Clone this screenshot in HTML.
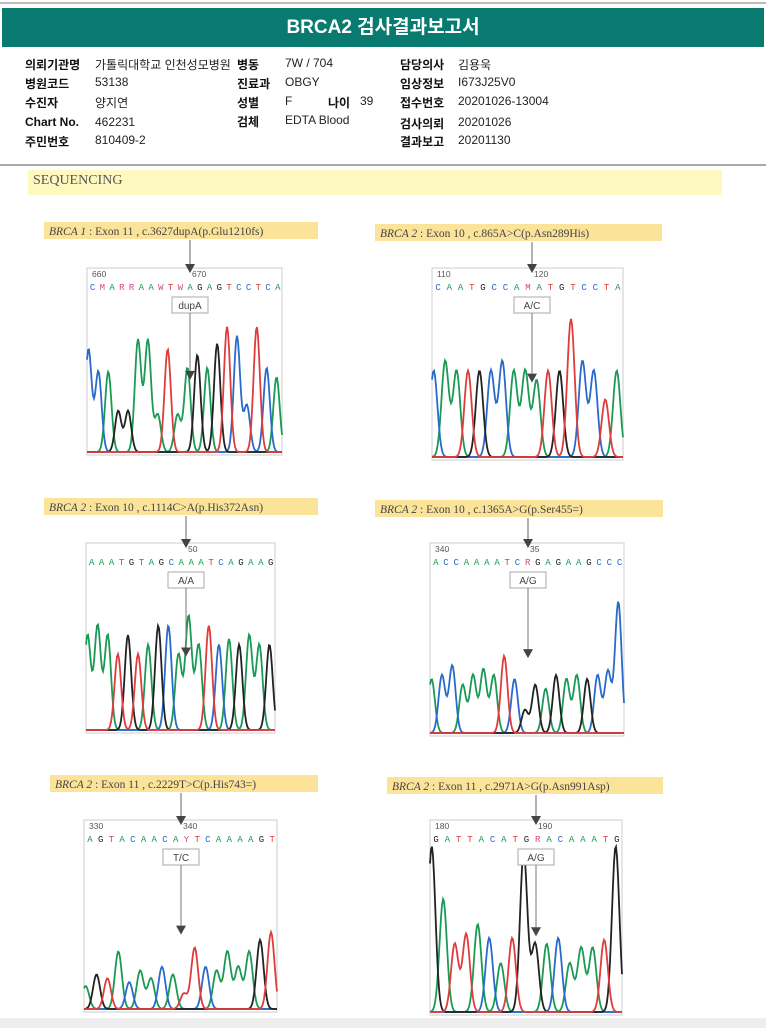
<!DOCTYPE html>
<html><head><meta charset="utf-8"><style>
html,body{margin:0;padding:0;width:766px;height:1028px;overflow:hidden;background:#fff;font-family:"Liberation Sans","Noto Sans CJK KR",sans-serif;}
.topline{position:absolute;left:0;top:2px;width:766px;height:2px;background:#bbb}
.title{position:absolute;left:2px;top:8px;width:762px;height:39px;background:#087a70;color:#fff;font-weight:bold;font-size:19px;text-align:center;line-height:39px}
.info{position:absolute;font-size:12px;color:#222;white-space:nowrap}
.info b{font-weight:bold;color:#111}
.sep{position:absolute;left:0;top:164px;width:766px;height:2px;background:#aaa}
.seq{position:absolute;left:28px;top:170px;width:694px;height:25px;background:#fdf9bf;font-family:"Liberation Serif",serif;font-size:14px;color:#555;line-height:22px;text-indent:5px}
.bottom{position:absolute;left:0;top:1018px;width:766px;height:10px;background:#eee}
</style></head><body>
<div class="topline"></div>
<div class="title">BRCA2 검사결과보고서</div>
<div>
<div class="info" style="left:25px;top:56px"><b>의뢰기관명</b></div><div class="info" style="left:95px;top:56px">가톨릭대학교 인천성모병원</div>
<div class="info" style="left:237px;top:56px"><b>병동</b></div><div class="info" style="left:285px;top:56px">7W / 704</div>
<div class="info" style="left:400px;top:56px"><b>담당의사</b></div><div class="info" style="left:458px;top:56px">김용욱</div>
<div class="info" style="left:25px;top:75px"><b>병원코드</b></div><div class="info" style="left:95px;top:75px">53138</div>
<div class="info" style="left:237px;top:75px"><b>진료과</b></div><div class="info" style="left:285px;top:75px">OBGY</div>
<div class="info" style="left:400px;top:75px"><b>임상정보</b></div><div class="info" style="left:458px;top:75px">I673J25V0</div>
<div class="info" style="left:25px;top:94px"><b>수진자</b></div><div class="info" style="left:95px;top:94px">양지연</div>
<div class="info" style="left:237px;top:94px"><b>성별</b></div><div class="info" style="left:285px;top:94px">F</div>
<div class="info" style="left:328px;top:94px"><b>나이</b></div><div class="info" style="left:360px;top:94px">39</div>
<div class="info" style="left:400px;top:94px"><b>접수번호</b></div><div class="info" style="left:458px;top:94px">20201026-13004</div>
<div class="info" style="left:25px;top:115px"><b>Chart No.</b></div><div class="info" style="left:95px;top:115px">462231</div>
<div class="info" style="left:237px;top:113px"><b>검체</b></div><div class="info" style="left:285px;top:113px">EDTA Blood</div>
<div class="info" style="left:400px;top:115px"><b>검사의뢰</b></div><div class="info" style="left:458px;top:115px">20201026</div>
<div class="info" style="left:25px;top:133px"><b>주민번호</b></div><div class="info" style="left:95px;top:133px">810409-2</div>
<div class="info" style="left:400px;top:133px"><b>결과보고</b></div><div class="info" style="left:458px;top:133px">20201130</div>
</div>
<div class="sep"></div>
<div class="seq">SEQUENCING</div>
<svg id="chart" width="766" height="1028" style="position:absolute;left:0;top:0"></svg>
<div class="bottom"></div>
<script>
const panelLabels=[["BRCA 1"," : Exon 11 , c.3627dupA(p.Glu1210fs)"],["BRCA 2"," : Exon 10 , c.865A>C(p.Asn289His)"],["BRCA 2"," : Exon 10 , c.1114C>A(p.His372Asn)"],["BRCA 2"," : Exon 10 , c.1365A>G(p.Ser455=)"],["BRCA 2"," : Exon 11 , c.2229T>C(p.His743=)"],["BRCA 2"," : Exon 11 , c.2971A>G(p.Asn991Asp)"]];
const callLabels=["dupA","A/C","A/A","A/G","T/C","A/G"];
const posLabels=[["660","670"],["110","120"],["","50"],["340","35"],["330","340"],["180","190"]];
const seqTexts=["CMARRAAWTWAGAGTCCTCA","CAATGCCAMATGTCCTA","AAATGTAGCAAATCAGAAG","ACCAAAATCRGAGAAGCCC","AGTACAACAYTCAAAAGT","GATTACATGRACAAATG"];
const peakBases=["CCAGGAAATAAGAGTCCTCA","CAATGCCAAATGTCCTA","AAATGTAGCAAATCAGAAG","ACCAAAATCGGAGAAGCCC","AGTACAACATTCAAAAGT","GATTACATGGACAAATG"];
const peakHeights=[
[0.55,0.43,0.43,0.22,0.22,0.6,0.6,0.2,0.55,0.2,0.45,0.52,0.45,0.58,0.67,0.62,0.25,0.67,0.45,0.4],
[0.45,0.5,0.45,0.45,0.45,0.45,0.5,0.45,0.45,0.4,0.45,0.45,0.72,0.5,0.45,0.3,0.45],
[0.5,0.55,0.5,0.4,0.5,0.4,0.45,0.55,0.55,0.4,0.6,0.45,0.55,0.45,0.48,0.45,0.5,0.45,0.45],
[0.28,0.3,0.35,0.25,0.3,0.33,0.3,0.4,0.28,0.12,0.25,0.23,0.3,0.28,0.3,0.28,0.3,0.32,0.68],
[0.12,0.18,0.16,0.3,0.14,0.2,0.16,0.22,0.18,0.08,0.32,0.22,0.2,0.3,0.22,0.3,0.36,0.4],
[0.85,0.58,0.35,0.4,0.45,0.38,0.25,0.38,0.82,0.35,0.35,0.38,0.25,0.33,0.33,0.37,0.85]];
const boxes=[[87,268,195,187,190,44,222,274],[432,268,191,192,532,375,224,287],[86,543,189,190,186,44,498,274],[430,543,194,193,528,375,500,288],[84,820,193,192,181,50,775,268],[430,820,192,195,536,387,777,276]];
const colorMap={A:"#1a9a55",C:"#2a6acb",G:"#222222",T:"#e03c3c",M:"#d04a8a",R:"#d04a8a",W:"#d04a8a",Y:"#d04a8a"};
const svg=document.getElementById('chart');
const NS="http://www.w3.org/2000/svg";
function mk(t,a){const e=document.createElementNS(NS,t);for(const k in a)e.setAttribute(k,a[k]);svg.appendChild(e);return e;}
boxes.forEach((b,i)=>{
 const [bx,by,bw,bh,ax,lx,ly,lw]=b;
 let r=mk('rect',{x:lx,y:ly,width:lw,height:17,fill:'#fbe39a'});
 
 
 let t=mk('text',{x:lx+5,y:ly+13,'font-size':'11.5','font-family':'Liberation Serif, serif',fill:'#444'});
 
 
 t.innerHTML='<tspan font-style="italic">'+panelLabels[i][0]+'</tspan>'+panelLabels[i][1].replace('>','&gt;');
 let box=mk('rect',{x:bx,y:by,width:bw,height:bh,fill:'#fff',stroke:'#ccc','stroke-width':1});
 
 
 const bases=peakBases[i],hs=peakHeights[i],n=bases.length,sp=bw/(n-0.3),sig=sp*0.32;
 const xOf=k=>bx+sp*(k+0.15);
 const yOf=h=>by+bh-3-h*bh;
 ['A','C','G','T'].forEach(c=>{
  let d='';
  for(let px=0;px<=bw;px+=1){
   const x=bx+px;let v=0;
   for(let k=0;k<n;k++){if(bases[k]===c)v+=hs[k]*Math.exp(-Math.pow(x-xOf(k),2)/(2*sig*sig));}
   d+=(px?'L':'M')+x.toFixed(1)+' '+yOf(v).toFixed(1);
  }
  let p=mk('path',{d:d,fill:'none',stroke:colorMap[c],'stroke-width':1.8});
  
  
 });
 const s=seqTexts[i];
 for(let k=0;k<s.length;k++){
  let e=mk('text',{x:bx+(k+0.3)*bw/s.length,y:by+22,'font-size':'9','font-family':'Liberation Mono, monospace',fill:colorMap[s[k]]||'#888'});
  
  
  e.textContent=s[k];
 }
 const pl=posLabels[i];
 let p1=mk('text',{x:bx+5,y:by+9,'font-size':'8.5',fill:'#555'});p1.textContent=pl[0];
 
 
 let p2=mk('text',{x:ax+2,y:by+9,'font-size':'8.5',fill:'#555'});p2.textContent=pl[1];
 
 
 let l1=mk('line',{x1:ax,y1:ly+18,x2:ax,y2:by+2,stroke:'#666','stroke-width':1});
 
 
 let a1=mk('path',{d:`M${ax-5} ${by-4}L${ax+5} ${by-4}L${ax} ${by+5}Z`,fill:'#444'});
 
 
 let cb=mk('rect',{x:ax-18,y:by+29,width:36,height:16,fill:'#fff',stroke:'#aaa'});
 
 
 let ct=mk('text',{x:ax,y:by+41,'font-size':'10','text-anchor':'middle',fill:'#444'});ct.textContent=callLabels[i];
 
 
 let ay=by+bh*0.55;
 let l2=mk('line',{x1:ax,y1:by+45,x2:ax,y2:ay,stroke:'#777','stroke-width':1});
 
 
 let a2=mk('path',{d:`M${ax-5} ${ay}L${ax+5} ${ay}L${ax} ${ay+9}Z`,fill:'#444'});
 
 
});
</script>
</body></html>
